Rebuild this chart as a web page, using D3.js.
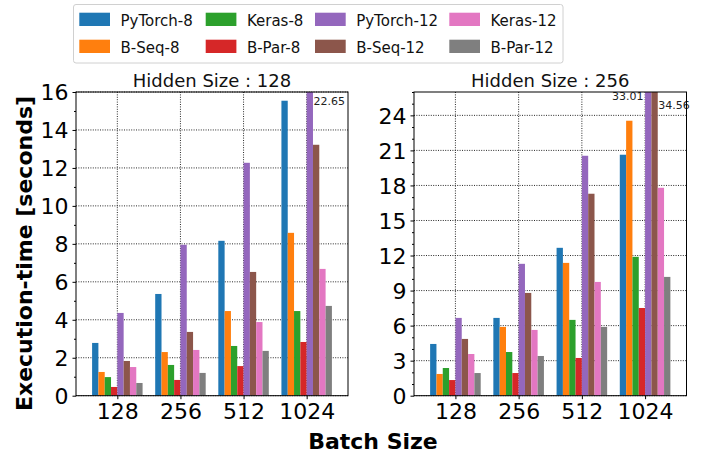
<!DOCTYPE html>
<html>
<head>
<meta charset="utf-8">
<script src="https://cdn.jsdelivr.net/npm/d3@7/dist/d3.min.js"></script>
<style>
  html, body { margin: 0; padding: 0; background: #fff; }
  svg { display: block; font-family: "DejaVu Sans", sans-serif; }
</style>
</head>
<body>
<svg id="chart" width="713" height="456"></svg>
<script>
// Batch sizes on the x axis and the eight implementations compared
const batchSizes = ["128", "256", "512", "1024"];
const seriesNames = ["PyTorch-8", "B-Seq-8", "Keras-8", "B-Par-8",
                     "PyTorch-12", "B-Seq-12", "Keras-12", "B-Par-12"];
const seriesColors = ["#1f77b4", "#ff7f0e", "#2ca02c", "#d62728",
                      "#9467bd", "#8c564b", "#e377c2", "#7f7f7f"];

// Execution time in seconds, hidden size 128
const h128PyTorch8  = [2.78, 5.36, 8.16, 15.54];
const h128BSeq8     = [1.25, 2.30, 4.46, 8.58];
const h128Keras8    = [0.98, 1.62, 2.62, 4.46];
const h128BPar8     = [0.46, 0.83, 1.56, 2.83];
const h128PyTorch12 = [4.36, 7.95, 12.27, 22.65];
const h128BSeq12    = [1.83, 3.36, 6.52, 13.22];
const h128Keras12   = [1.51, 2.41, 3.88, 6.68];
const h128BPar12    = [0.67, 1.20, 2.36, 4.73];

// Execution time in seconds, hidden size 256
const h256PyTorch8  = [4.43, 6.66, 12.66, 20.63];
const h256BSeq8     = [1.86, 5.89, 11.37, 23.54];
const h256Keras8    = [2.37, 3.74, 6.49, 11.89];
const h256BPar8     = [1.34, 1.94, 3.23, 7.51];
const h256PyTorch12 = [6.66, 11.29, 20.54, 33.01];
const h256BSeq12    = [4.86, 8.80, 17.29, 34.56];
const h256Keras12   = [3.57, 5.63, 9.74, 17.80];
const h256BPar12    = [1.94, 3.40, 5.89, 10.17];

// Axis ticks for each panel
const yTicks128 = [0, 2, 4, 6, 8, 10, 12, 14, 16];
const yTicks256 = [0, 3, 6, 9, 12, 15, 18, 21, 24];

const panels = [
  {
    hidden: 128,
    title: "Hidden Size : 128",
    series: [h128PyTorch8, h128BSeq8, h128Keras8, h128BPar8,
             h128PyTorch12, h128BSeq12, h128Keras12, h128BPar12],
    yMax: 16, yTicks: yTicks128, minorStep: 1,
    left: 76, right: 348
  },
  {
    hidden: 256,
    title: "Hidden Size : 256",
    series: [h256PyTorch8, h256BSeq8, h256Keras8, h256BPar8,
             h256PyTorch12, h256BSeq12, h256Keras12, h256BPar12],
    yMax: 26, yTicks: yTicks256, minorStep: 1,
    left: 414, right: 686.5
  }
];

// Placement of the value labels for bars that run past the top of the axes
const overflowLabelStyle = {
  "128|PyTorch-12": { side: "right", dy: 13 },
  "256|PyTorch-12": { side: "left",  dy: 8 },
  "256|B-Seq-12":   { side: "right", dy: 17 }
};

const svg = d3.select("#chart");
const plotTop = 92, plotBottom = 395.7;
const barW = 0.1;              // bar width in group units
const nSeries = seriesNames.length;

panels.forEach((p, pi) => {
  const x = d3.scaleLinear().domain([-0.655, 3.655]).range([p.left, p.right]);
  const y = d3.scaleLinear().domain([0, p.yMax]).range([plotBottom, plotTop]);
  const g = svg.append("g");

  const clipId = "clip" + pi;
  svg.append("defs").append("clipPath").attr("id", clipId)
    .append("rect").attr("x", p.left).attr("y", plotTop)
    .attr("width", p.right - p.left).attr("height", plotBottom - plotTop);

  // dotted grid at major ticks
  const grid = g.append("g").attr("stroke", "#111").attr("stroke-width", 0.9)
    .attr("stroke-dasharray", "1,1.4");
  p.yTicks.forEach(t => {
    grid.append("line").attr("x1", p.left).attr("x2", p.right)
      .attr("y1", y(t)).attr("y2", y(t));
  });
  batchSizes.forEach((b, i) => {
    grid.append("line").attr("x1", x(i)).attr("x2", x(i))
      .attr("y1", plotTop).attr("y2", plotBottom);
  });

  // bars
  const bars = g.append("g").attr("clip-path", `url(#${clipId})`);
  p.series.forEach((vals, si) => {
    bars.selectAll(null).data(vals).enter().append("rect")
      .attr("x", (d, i) => x(i + (si - nSeries / 2) * barW))
      .attr("width", x(barW) - x(0))
      .attr("y", d => y(d))
      .attr("height", d => y(0) - y(d))
      .attr("fill", seriesColors[si]);
  });

  // value labels for clipped bars
  p.series.forEach((vals, si) => {
    vals.forEach((v, i) => {
      if (v <= p.yMax) return;
      const st = overflowLabelStyle[p.hidden + "|" + seriesNames[si]] || { side: "right", dy: 13 };
      const x0 = x(i + (si - nSeries / 2) * barW);
      const x1 = x(i + (si - nSeries / 2 + 1) * barW);
      g.append("text")
        .attr("x", st.side === "right" ? x1 + 0.6 : x0 - 1.5)
        .attr("y", plotTop + st.dy)
        .attr("text-anchor", st.side === "right" ? "start" : "end")
        .attr("font-size", 11).attr("fill", "#222")
        .text(v.toFixed(2));
    });
  });

  // frame
  g.append("rect").attr("x", p.left).attr("y", plotTop)
    .attr("width", p.right - p.left).attr("height", plotBottom - plotTop)
    .attr("fill", "none").attr("stroke", "#000").attr("stroke-width", 1);

  // y axis: major and minor ticks
  const minor = d3.range(0, p.yMax + 1e-9, p.minorStep).filter(v => !p.yTicks.includes(v));
  g.append("g").attr("transform", `translate(${p.left},0)`)
    .call(d3.axisLeft(y).tickValues(minor).tickSize(2).tickFormat(""))
    .call(a => a.select(".domain").remove());
  g.append("g").attr("transform", `translate(${p.left},0)`)
    .call(d3.axisLeft(y).tickValues(p.yTicks).tickSize(3.5).tickPadding(4))
    .call(a => a.select(".domain").remove())
    .call(a => a.selectAll("text").attr("font-size", 22)
      .attr("font-family", "DejaVu Sans").attr("fill", "#000").attr("dy", "0.36em"));

  // x axis
  g.append("g").attr("transform", `translate(0,${plotBottom})`)
    .call(d3.axisBottom(x).tickValues(d3.range(batchSizes.length))
      .tickFormat(i => batchSizes[i]).tickSize(3.5).tickPadding(6))
    .call(a => a.select(".domain").remove())
    .call(a => a.selectAll("text").attr("font-size", 22)
      .attr("font-family", "DejaVu Sans").attr("fill", "#000").attr("dy", "0")
      .attr("y", 23.5));

  // panel title
  g.append("text").attr("x", (p.left + p.right) / 2).attr("y", 86.5)
    .attr("text-anchor", "middle").attr("font-size", 18).attr("fill", "#111")
    .text(p.title);
});

// axis titles
svg.append("text").attr("x", 373).attr("y", 449)
  .attr("text-anchor", "middle").attr("font-size", 22).attr("font-weight", "bold")
  .text("Batch Size");
svg.append("text").attr("transform", "translate(31.5,253.5) rotate(-90)")
  .attr("text-anchor", "middle").attr("font-size", 22).attr("font-weight", "bold")
  .text("Execution-time [seconds]");

// legend (two rows, filled column by column)
const legend = svg.append("g");
legend.append("rect").attr("x", 73.5).attr("y", 4.5).attr("width", 489.5).attr("height", 58.5)
  .attr("rx", 2.5).attr("fill", "#fff").attr("stroke", "#d0d0d0").attr("stroke-width", 1);
const colPatchX = [79.3, 205.7, 315, 449.3];
const rowPatchY = [12.7, 39.7];
seriesNames.forEach((name, i) => {
  const c = Math.floor(i / 2), r = i % 2;
  legend.append("rect").attr("x", colPatchX[c]).attr("y", rowPatchY[r])
    .attr("width", 30.7).attr("height", 13.3).attr("fill", seriesColors[i]);
  legend.append("text").attr("x", colPatchX[c] + 41.2).attr("y", rowPatchY[r] + 13.3)
    .attr("font-size", 15).attr("fill", "#111").text(name);
});
</script>
</body>
</html>
